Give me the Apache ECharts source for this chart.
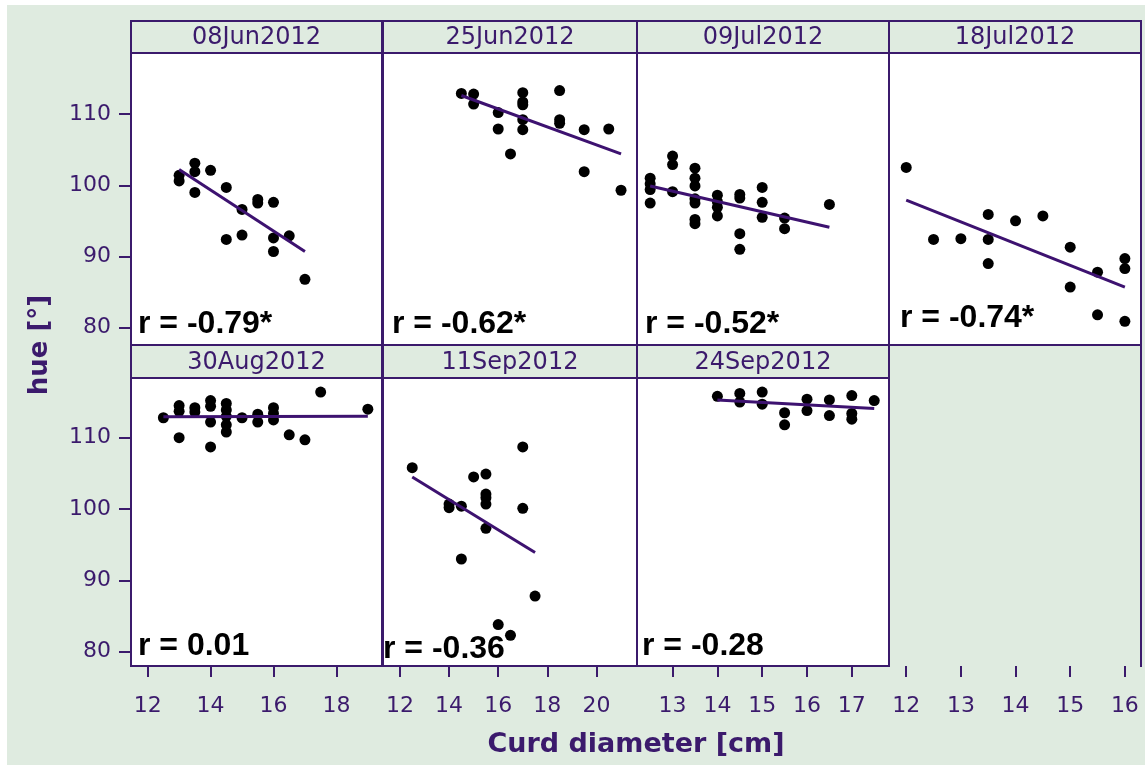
<!DOCTYPE html>
<html>
<head>
<meta charset="utf-8">
<script src="https://cdn.jsdelivr.net/npm/echarts@6/dist/echarts.min.js"></script>
<style>
html,body{margin:0;padding:0;background:#fff;}
#bg{position:absolute;left:7px;top:5px;right:0;bottom:2px;background:#dfebe0;}
#main{position:absolute;left:0;top:0;width:1145px;height:767px;}
</style>
</head>
<body>
<div id="bg"></div>
<div id="main"></div>
<script>
// ---------- DATA ----------
const panelTitles = ['08Jun2012','25Jun2012','09Jul2012','18Jul2012','30Aug2012','11Sep2012','24Sep2012'];
const rLabels = ['r = -0.79*','r = -0.62*','r = -0.52*','r = -0.74*','r = 0.01','r = -0.36','r = -0.28'];

const yTicks = [80, 90, 100, 110];
const xTicksCol1 = [12, 14, 16, 18];
const xTicksCol2 = [12, 14, 16, 18, 20];
const xTicksCol3 = [13, 14, 15, 16, 17];
const xTicksCol4 = [12, 13, 14, 15, 16];

const pts08Jun = [[13.0,101.4],[13.0,100.6],[13.5,103.1],[13.5,101.9],[13.5,99.0],[14.0,102.1],[14.5,99.7],[14.5,92.4],
  [15.0,96.6],[15.0,93.0],[15.5,98.0],[15.5,97.5],[16.0,97.6],[16.0,92.6],[16.0,90.7],[16.5,92.9],[17.0,86.8]];
const line08Jun = [[13.0,102.2],[17.0,90.7]];

const pts25Jun = [[14.5,112.9],[15.0,112.8],[15.0,111.4],[16.0,110.2],[16.0,107.9],[16.5,104.4],[17.0,113.0],[17.0,111.7],
  [17.0,111.3],[17.0,109.2],[17.0,107.8],[18.5,113.3],[18.5,109.2],[18.5,108.7],[19.5,107.8],[19.5,101.9],[20.5,107.9],[21.0,99.3]];
const line25Jun = [[14.5,112.6],[21.0,104.4]];

const pts09Jul = [[12.5,101.0],[12.5,100.2],[12.5,99.4],[12.5,97.5],[13.0,104.1],[13.0,102.9],[13.0,99.1],
  [13.5,102.4],[13.5,101.0],[13.5,99.9],[13.5,98.1],[13.5,97.5],[13.5,95.2],[13.5,94.6],
  [14.0,98.6],[14.0,97.7],[14.0,96.9],[14.0,95.7],[14.5,98.7],[14.5,98.2],[14.5,93.2],[14.5,91.0],
  [15.0,99.7],[15.0,97.6],[15.0,95.5],[15.5,95.4],[15.5,93.9],[16.5,97.3]];
const line09Jul = [[12.5,99.9],[16.5,94.1]];

const pts18Jul = [[12.0,102.5],[12.5,92.4],[13.0,92.5],[13.5,95.9],[13.5,92.4],[13.5,89.0],[14.0,95.0],[14.5,95.7],
  [15.0,91.3],[15.0,85.7],[15.5,87.8],[15.5,81.8],[16.0,89.7],[16.0,88.3],[16.0,80.9]];
const line18Jul = [[12.0,97.9],[16.0,85.7]];

const pts30Aug = [[12.5,112.8],[13.0,114.5],[13.0,113.7],[13.0,110.0],[13.5,114.2],[13.5,113.6],[14.0,115.2],[14.0,114.4],
  [14.0,112.2],[14.0,108.7],[14.5,114.8],[14.5,113.9],[14.5,113.0],[14.5,111.8],[14.5,110.8],[15.0,112.8],
  [15.5,113.3],[15.5,112.2],[16.0,114.2],[16.0,113.4],[16.0,112.5],[16.5,110.4],[17.0,109.7],[17.5,116.4],[19.0,114.0]];
const line30Aug = [[12.5,112.95],[19.0,113.0]];

const pts11Sep = [[12.5,105.8],[14.0,100.7],[14.0,100.2],[14.5,100.4],[14.5,93.0],[15.0,104.5],[15.5,104.9],[15.5,102.1],
  [15.5,101.6],[15.5,100.7],[15.5,97.3],[16.0,83.8],[16.5,82.3],[17.0,108.7],[17.0,100.1],[17.5,87.8]];
const line11Sep = [[12.5,104.5],[17.5,93.9]];

const pts24Sep = [[14.0,115.8],[14.5,116.2],[14.5,115.0],[15.0,116.4],[15.0,114.7],[15.5,113.5],[15.5,111.8],
  [16.0,115.4],[16.0,113.8],[16.5,115.3],[16.5,113.1],[17.0,115.9],[17.0,113.4],[17.0,112.6],[17.5,115.2]];
const line24Sep = [[14.0,115.3],[17.5,114.1]];

// ---------- LAYOUT ----------
const PURPLE = '#3b1a6c';
const LINEC = '#3d1270';
const colLeft = [131, 383, 637, 889];
const colWidth = [251, 254, 252, 252];
const colX = [[11.47,19.45],[11.31,21.65],[12.206,17.83],[11.685,16.295]];
const colTicks = [xTicksCol1, xTicksCol2, xTicksCol3, xTicksCol4];
const rowTop = [53, 378];
const rowHeight = [292, 288];
const rowY = [[77.57,118.57],[78.0,118.37]];
const stripTop = [21, 345];
const stripH = [32, 33];

const panels = [
  {pts: pts08Jun, line: line08Jun, row:0, col:0, lx:138, ly:324},
  {pts: pts25Jun, line: line25Jun, row:0, col:1, lx:392, ly:324},
  {pts: pts09Jul, line: line09Jul, row:0, col:2, lx:645, ly:324},
  {pts: pts18Jul, line: line18Jul, row:0, col:3, lx:900, ly:318},
  {pts: pts30Aug, line: line30Aug, row:1, col:0, lx:138, ly:646},
  {pts: pts11Sep, line: line11Sep, row:1, col:1, lx:383, ly:649},
  {pts: pts24Sep, line: line24Sep, row:1, col:2, lx:642, ly:646}
];

const grids = [], xAxes = [], yAxes = [], series = [], graphics = [];
const tickFont = {fontFamily:'DejaVu Sans', fontSize:22, color:PURPLE};

function addGrid(row, col, showPanel, showX, showY) {
  const idx = grids.length;
  grids.push({left: colLeft[col], top: rowTop[row], width: colWidth[col], height: rowHeight[row],
    show: showPanel, backgroundColor: '#ffffff', borderColor: PURPLE, borderWidth: 2, containLabel: false});
  xAxes.push({gridIndex: idx, type:'value', min: colX[col][0], max: colX[col][1],
    axisLine:{show:false}, splitLine:{show:false},
    axisTick:{show: showX, length: 11, inside:false, customValues: colTicks[col], lineStyle:{color:PURPLE, width:2}},
    axisLabel:{show: showX, margin: 29, customValues: colTicks[col], ...tickFont}});
  yAxes.push({gridIndex: idx, type:'value', min: rowY[row][0], max: rowY[row][1],
    axisLine:{show:false}, splitLine:{show:false},
    axisTick:{show: showY, length: 12, customValues: yTicks, lineStyle:{color:PURPLE, width:2}},
    axisLabel:{show: showY, margin: 20, customValues: yTicks, ...tickFont}});
  return idx;
}

panels.forEach((p, i) => {
  const idx = addGrid(p.row, p.col, true, p.row === 1, p.col === 0);
  series.push({type:'scatter', xAxisIndex: idx, yAxisIndex: idx, data: p.pts, symbolSize: 11,
    itemStyle:{color:'#000', opacity: 1}, z: 3, silent: true});
  series.push({type:'line', xAxisIndex: idx, yAxisIndex: idx, data: p.line, symbol:'none',
    lineStyle:{color: LINEC, width: 3}, z: 4, silent: true});
  // strip
  graphics.push({type:'rect', shape:{x: colLeft[p.col], y: stripTop[p.row], width: colWidth[p.col], height: stripH[p.row]},
    style:{fill:'#dfebe0', stroke: PURPLE, lineWidth: 2}, z: 10});
  graphics.push({type:'text', x: colLeft[p.col] + colWidth[p.col]/2, y: stripTop[p.row] + stripH[p.row]/2 + 1,
    style:{text: panelTitles[i], fill: PURPLE, font: '24px "DejaVu Sans"', align:'center', verticalAlign:'middle'}, z: 11});
  graphics.push({type:'text', x: p.lx, y: p.ly,
    style:{text: rLabels[i], fill:'#000', font:'bold 32px "Liberation Sans"', align:'left', verticalAlign:'middle'}, z: 12});
});
// empty cell axis (col 4 bottom)
addGrid(1, 3, false, true, false);
graphics.push({type:'line', shape:{x1:1141, y1:345, x2:1141, y2:667}, style:{stroke: PURPLE, lineWidth: 2}, z: 10});

// axis titles
graphics.push({type:'text', x: 40, y: 345, rotation: Math.PI/2,
  style:{text:'hue [°]', fill: PURPLE, font:'bold 26px "DejaVu Sans"', align:'center', verticalAlign:'middle'}, z: 12});
graphics.push({type:'text', x: 636, y: 745,
  style:{text:'Curd diameter [cm]', fill: PURPLE, font:'bold 27px "DejaVu Sans"', align:'center', verticalAlign:'middle'}, z: 12});

const chart = echarts.init(document.getElementById('main'), null, {renderer:'canvas'});
chart.setOption({
  animation: false,
  grid: grids,
  xAxis: xAxes,
  yAxis: yAxes,
  series: series,
  graphic: graphics
});
</script>
</body>
</html>
